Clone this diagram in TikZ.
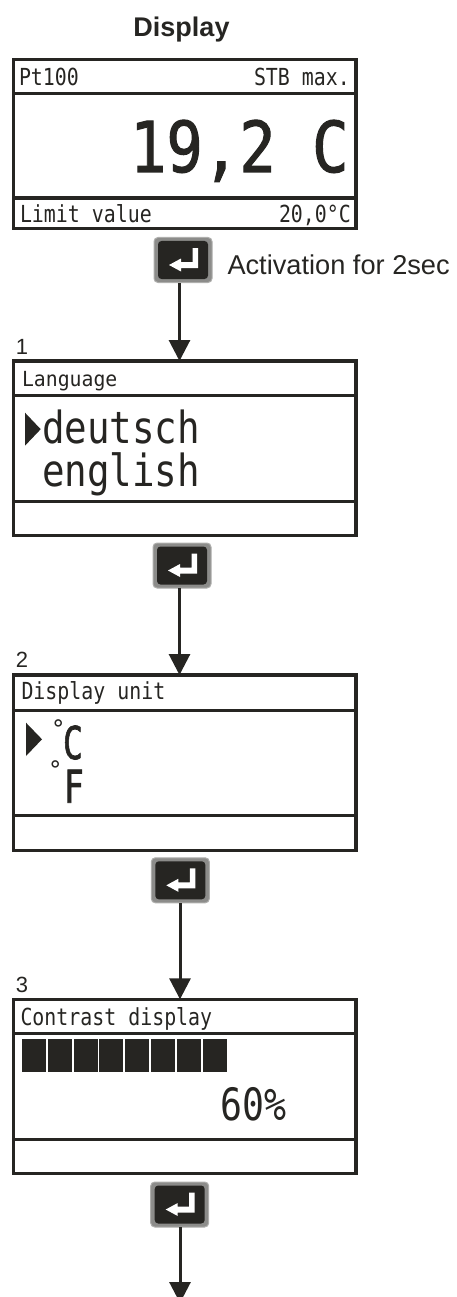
\documentclass[tikz,border=0pt]{standalone}
\usepackage{fontspec}
\usepackage{graphicx}
\setmainfont{Liberation Sans}
\newfontfamily\lcdfont{DejaVu Sans Mono}
\newfontfamily\lcdheavy[FakeBold=1.6]{DejaVu Sans Mono}
\usetikzlibrary{arrows.meta}
\definecolor{ink}{HTML}{262522}
\definecolor{keyrim}{HTML}{8C8C8A}
\tikzset{
  lcdbox/.style={draw=ink,line width=3.6pt,fill=white,minimum width=342.6pt,outer sep=0pt,inner sep=0pt},
  divider/.style={draw=ink,line width=3.6pt},
  lcdtxt/.style={anchor=base west,inner sep=0pt,outer sep=0pt,text=ink},
  sanstxt/.style={anchor=base west,inner sep=0pt,outer sep=0pt,text=ink},
  keyouter/.style={fill=keyrim,draw=keyrim!70!white,line width=1pt,rounded corners=4pt,minimum width=58pt,minimum height=45pt,inner sep=0pt,outer sep=0pt},
  keyinner/.style={fill=ink,rounded corners=3.5pt},
  conn/.style={draw=ink,line width=3pt,-{Triangle[width=21pt,length=21pt]}},
  cursor/.style={fill=ink},
  bar/.style={fill=ink}
}
% name, x, y, font size, vertical stretch, text
\newcommand{\lcdlabel}[6]{\node[lcdtxt] (#1) at (#2,#3) {\fontsize{#4pt}{#4pt}\selectfont\lcdfont\scalebox{1}[#5]{#6}};}
\newcommand{\lcdbig}[6]{\node[lcdtxt] (#1) at (#2,#3) {\fontsize{#4pt}{#4pt}\selectfont\lcdheavy\scalebox{1}[#5]{#6}};}
\newcommand{\sanslabel}[5]{\node[sanstxt] (#1) at (#2,#3) {\fontsize{#4pt}{#4pt}\selectfont #5};}
% name, centre x, centre y
\newcommand{\enterkey}[3]{%
  \node[keyouter] (#1) at (#2,#3) {};
  \fill[keyinner] (#2-25,#3-19) rectangle (#2+25,#3+19);
  \fill[white] (#2+9.5,#3-12) -- (#2+15,#3-12) -- (#2+15,#3+8) -- (#2-2,#3+8) -- (#2-2,#3+11.5) -- (#2-14,#3+5) -- (#2-2,#3-1.5) -- (#2-2,#3+2) -- (#2+9.5,#3+2) -- cycle;
}
\begin{document}
\begin{tikzpicture}[x=1pt,y=-1pt]
\useasboundingbox (0,0) rectangle (456,1297);
% titles
\node[sanstxt,anchor=base,font=\bfseries] (title) at (181.5,36.7) {\fontsize{27pt}{27pt}\selectfont Display};
% boxes
\node[lcdbox,minimum height=169.2pt] (box0) at (184.7,144.1) {};
\node[lcdbox,minimum height=174.3pt] (box1) at (184.7,448.15) {};
\node[lcdbox,minimum height=175.3pt] (box2) at (184.7,762.65) {};
\node[lcdbox,minimum height=174pt] (box3) at (184.7,1086.3) {};
% dividers
\draw[divider] (box0.west |- 0,93.7) -- (box0.east |- 0,93.7);
\draw[divider] (box0.west |- 0,198) -- (box0.east |- 0,198);
\draw[divider] (box1.west |- 0,395.3) -- (box1.east |- 0,395.3);
\draw[divider] (box1.west |- 0,501.3) -- (box1.east |- 0,501.3);
\draw[divider] (box2.west |- 0,710.3) -- (box2.east |- 0,710.3);
\draw[divider] (box2.west |- 0,815.3) -- (box2.east |- 0,815.3);
\draw[divider] (box3.west |- 0,1033.3) -- (box3.east |- 0,1033.3);
\draw[divider] (box3.west |- 0,1139.3) -- (box3.east |- 0,1139.3);
% keys
\enterkey{key0}{183}{260}
\enterkey{key1}{182}{565.5}
\enterkey{key2}{180.3}{880.3}
\enterkey{key3}{179.7}{1204.5}
% connectors
\coordinate (c0) at (179.5,283);
\coordinate (c1) at (179.5,588);
\coordinate (c2) at (180,903);
\coordinate (c3) at (180,1227);
\coordinate (end3) at (180,1303);
\draw[conn] (c0) -- (c0 |- box1.north);
\draw[conn] (c1) -- (c1 |- box2.north);
\draw[conn] (c2) -- (c2 |- box3.north);
\draw[conn] (c3) -- (end3);
% sans labels
\sanslabel{act}{227.5}{274}{27.2}{Activation for 2sec}
\sanslabel{n1}{16}{354}{22}{1}
\sanslabel{n2}{16}{667}{22}{2}
\sanslabel{n3}{16}{992}{22}{3}
% box 0
\lcdlabel{t1}{19}{86}{19.9}{1.18}{Pt100}
\lcdlabel{t2}{254}{86}{19.9}{1.18}{STB max.}
\lcdbig{t3}{130}{172}{60.5}{1.16}{19,2 C}
\lcdlabel{t4}{20}{223}{19.9}{1.18}{Limit value}
\lcdlabel{t5}{279}{223}{19.9}{1.18}{20,0°C}
% box 1
\lcdlabel{t6}{22}{386.5}{19.8}{1.05}{Language}
\fill[cursor] (25,412.7) -- (40.7,429.2) -- (25,445.7) -- cycle;
\lcdlabel{t7}{42}{443.3}{37.5}{1.18}{deutsch}
\lcdlabel{t8}{42}{486.7}{37.5}{1.18}{english}
% box 2
\lcdlabel{t9}{21.5}{699.3}{19.9}{1.18}{Display unit}
\fill[cursor] (26,722.7) -- (42,739.3) -- (26,756) -- cycle;
\lcdlabel{t10}{51}{737}{24}{1}{°}
\lcdbig{t11}{63}{759}{33}{1.37}{C}
\lcdlabel{t12}{48}{778.5}{24}{1}{°}
\lcdbig{t13}{64}{802.7}{33}{1.37}{F}
% box 3
\lcdlabel{t14}{20.5}{1025.7}{19.9}{1.18}{Contrast display}
\foreach \i in {0,...,7} {
  \fill[bar] (21.7+25.9*\i,1039.3) rectangle (45.7+25.9*\i,1072.3);
}
\lcdlabel{t15}{220.5}{1120}{36.5}{1.22}{60\%}
\end{tikzpicture}
\end{document}
